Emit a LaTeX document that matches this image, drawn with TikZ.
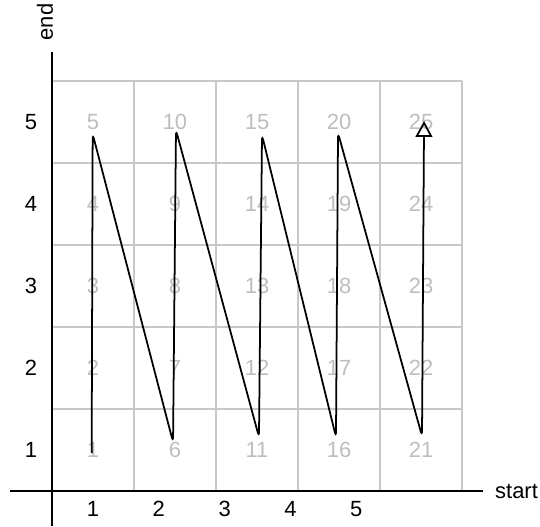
\documentclass[tikz,border=0pt]{standalone}
\usepackage{fontspec}
\setmainfont{Liberation Sans}
\usetikzlibrary{arrows.meta,positioning}
\definecolor{gline}{HTML}{C8C8C8}
\definecolor{gnum}{HTML}{BEBEBE}
\tikzset{
  cellnum/.style={text=gnum,font=\fontsize{12.5}{15}\selectfont,inner sep=0pt},
  ticklbl/.style={font=\fontsize{12.5}{15}\selectfont,inner sep=0pt},
  axisln/.style={line width=1pt,draw=black},
  gridln/.style={line width=1pt,draw=gline},
  zig/.style={-{Triangle[open,length=9pt,width=9.5pt]},line width=1pt,rounded corners=3pt},
}
\begin{document}
\begin{tikzpicture}[x=1.64cm,y=1.64cm]
  \useasboundingbox (-0.634,-0.427) rectangle (5.951,5.988);
  % grid and cell numbers (column by column)
  \draw[gridln,step=1.64cm] (0,0) grid (5,5);
  \foreach \c in {1,...,5}
    \foreach \r in {1,...,5} {
      \pgfmathtruncatemacro{\k}{(\c-1)*5+\r}
      \node[cellnum] (n\k) at (\c-0.5,\r-0.5) {\k};
    }
  % axes
  \coordinate (xa) at (-0.512,0); \coordinate (xb) at (5.256,0);
  \coordinate (ya) at (0,-0.427); \coordinate (yb) at (0,5.354);
  \draw[axisln] (xa) -- (xb);
  \draw[axisln] (ya) -- (yb);
  \node[ticklbl,anchor=west] (st) at (5.40,0) {start};
  \node[ticklbl,rotate=90] (en) at (-0.085,5.72) {end};
  \foreach \i in {1,...,5} {
    \node[ticklbl] (tx\i) at ({0.5+(\i-1)*0.8025},-0.22) {\i};
    \node[ticklbl] (ty\i) at (-0.256,\i-0.5) {\i};
  }
  % zigzag through the cells
  \coordinate (p0) at (0.484,0.463);
  \coordinate (t1) at (0.496,4.354);
  \coordinate (b2) at (1.476,0.598);
  \coordinate (t2) at (1.512,4.402);
  \coordinate (b3) at (2.524,0.659);
  \coordinate (t3) at (2.561,4.341);
  \coordinate (b4) at (3.463,0.659);
  \coordinate (t4) at (3.488,4.366);
  \coordinate (b5) at (4.512,0.671);
  \coordinate (p1) at (4.537,4.512);
  \draw[zig] (p0) -- (t1) -- (b2) -- (t2) -- (b3) -- (t3) -- (b4) -- (t4) -- (b5) -- (p1);
\end{tikzpicture}
\end{document}
